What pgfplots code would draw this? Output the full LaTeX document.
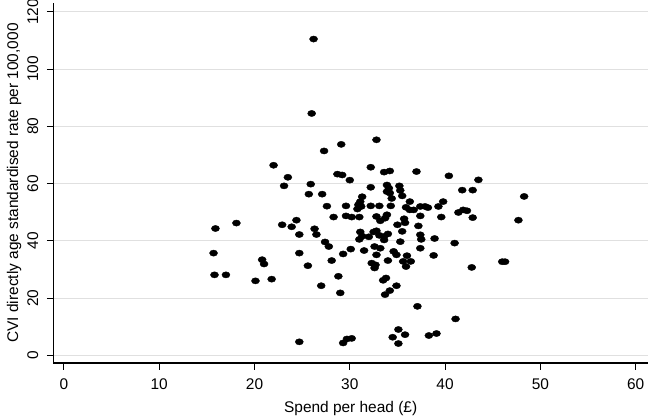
\documentclass[border=0pt]{standalone}
\usepackage{fontspec}
\setmainfont{Liberation Sans}
\usepackage{pgfplots}
\pgfplotsset{compat=1.18}
\begin{document}
\begin{tikzpicture}
\useasboundingbox (-53.3bp,-57bp) rectangle (594.7bp,363bp);
\begin{axis}[
  at={(0,0)}, anchor=south west,
  scale only axis, width=594.7bp, height=360bp,
  xmin=-1.12, xmax=61.3, ymin=-2.7, ymax=123.1,
  axis x line*=bottom, axis y line*=left,
  axis line style={line width=1.2bp, black},
  xtick={0,10,...,60}, ytick={0,20,...,120},
  tick align=outside, major tick length=6.5bp,
  tick style={line width=1bp, black},
  ymajorgrids, grid style={line width=0.8bp, black!12},
  /pgf/number format/assume math mode=true,
  tick label style={font=\fontsize{15.5}{17}\selectfont},
  xticklabel style={anchor=center, yshift=-15bp},
  yticklabel style={xshift=-14bp, rotate=90, anchor=center},
  xlabel={Spend per head (£)},
  ylabel={CVI directly age standardised rate per 100,000},
  label style={font=\fontsize{15.5}{17}\selectfont},
  xlabel style={at={(axis description cs:0.5,0)}, anchor=center, yshift=-46bp},
  ylabel style={at={(axis description cs:-0.066,0.5)}, anchor=center},
  clip=false,
]
\addplot[only marks, mark=*, mark size=3.1bp, black,
  mark options={xscale=1.3, fill=black, draw=black}] coordinates {
(26.2,110.5) (26.0,84.5) (29.1,73.7) (27.3,71.4) (32.8,75.3)
(22.0,66.4) (23.5,62.2) (28.7,63.3) (29.2,63.0) (30.0,61.2)
(23.1,59.2) (25.9,59.8) (25.7,56.3) (27.1,56.3) (27.6,52.1)
(29.6,52.2) (28.3,48.3) (29.6,48.7) (15.9,44.3) (18.1,46.2)
(22.9,45.6) (24.4,47.2) (23.9,44.9) (24.7,42.2) (26.3,44.2)
(26.5,42.2) (27.4,39.6) (27.8,38.0) (33.6,64.0) (34.2,64.4)
(37.0,64.2) (40.4,62.7) (32.2,65.7) (32.2,58.7) (33.9,59.5)
(34.1,58.4) (33.9,57.2) (34.2,56.7) (35.2,59.2) (35.3,57.6)
(31.3,55.4) (31.1,53.7) (34.4,54.8) (35.5,55.7) (36.3,53.7)
(30.9,52.6) (31.2,52.0) (30.8,51.1) (32.2,52.2) (33.1,52.2)
(34.3,52.2) (35.9,51.7) (36.3,50.8) (36.7,50.8) (37.4,52.0)
(37.9,52.0) (38.2,51.6) (39.3,52.0) (39.8,53.7) (30.2,48.3)
(31.0,48.3) (32.8,48.5) (33.2,47.0) (33.9,49.1) (33.7,47.9)
(35.7,47.7) (35.8,46.3) (37.4,48.7) (39.6,48.3) (35.0,45.6)
(37.2,45.2) (31.1,43.1) (31.3,41.6) (31.0,40.5) (32.0,41.4)
(32.5,43.1) (32.8,43.5) (33.1,41.9) (33.6,41.5) (34.0,42.4)
(33.6,40.3) (35.5,43.3) (35.3,39.7) (37.4,42.1) (37.5,40.5)
(38.9,40.8) (30.1,37.1) (31.5,36.6) (32.6,38.0) (33.2,37.4)
(37.4,37.4) (29.3,35.4) (32.8,35.1) (34.6,36.3) (34.9,35.1)
(36.0,34.8) (36.4,32.8) (35.6,32.8) (35.9,31.0) (38.8,34.9)
(41.0,39.2) (28.1,33.1) (32.3,32.2) (32.7,31.6) (32.6,30.5)
(34.0,33.1) (42.8,30.7) (46.0,32.7) (46.3,32.7) (28.8,27.6)
(33.5,26.2) (33.8,27.0) (29.0,21.8) (33.7,21.2) (34.2,22.6)
(34.9,24.3) (37.1,17.1) (41.1,12.7) (29.3,4.3) (29.7,5.7)
(30.2,5.9) (34.5,6.3) (35.1,9.0) (35.8,7.2) (35.1,4.1)
(38.3,6.9) (39.1,7.6) (24.7,4.7) (15.7,35.7) (15.8,28.1)
(17.0,28.1) (24.7,35.7) (20.8,33.4) (21.0,31.9) (25.6,31.3)
(20.1,26.0) (21.8,26.6) (27.0,24.3) (43.5,61.3) (41.8,57.7)
(42.9,57.7) (48.3,55.5) (41.4,49.9) (41.9,50.8) (42.3,50.5)
(42.9,48.1) (47.7,47.2)
};
\end{axis}
\end{tikzpicture}
\end{document}
